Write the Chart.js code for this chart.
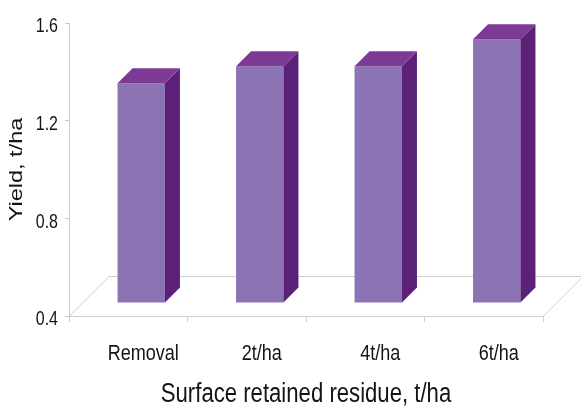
<!DOCTYPE html>
<html>
<head>
<meta charset="utf-8">
<script src="https://cdn.jsdelivr.net/npm/chart.js@4/dist/chart.umd.min.js"></script>
<style>
  html, body { margin: 0; padding: 0; background: #ffffff; }
  #wrap { width: 581px; height: 407px; }
</style>
</head>
<body>
<div id="wrap"><canvas id="chart" width="581" height="407"></canvas></div>
<script>
// Yield under different amounts of surface-retained residue
const categories = ['Removal', '2t/ha', '4t/ha', '6t/ha'];
const yieldValues = [1.30, 1.37, 1.37, 1.48];
const yTicks = [0.4, 0.8, 1.2, 1.6];

const FRONT = '#8c73b4';
const SIDE = '#5b2179';
const TOP = '#7d3a95';
const FLOOR_LINE = '#cfcfcf';
const AXIS_LINE = '#cdc6da';
const TEXT = '#141414';
const SANS = "'Liberation Sans', Arial, sans-serif";
const NARROW_K = 0.82;   // horizontal squeeze giving a narrow typeface look

const FLOOR_DEPTH = 40;  // depth of the floor plane
const BAR_SHIFT = 13;    // columns stand partway back on the floor
const BAR_DEPTH = 15;    // thickness of each column

// Wrap a scale drawing method so its text is drawn condensed
function condense(scale, method, kx, ky) {
  const orig = scale[method];
  scale[method] = function (...args) {
    const ctx = this.ctx;
    const proto = Object.getPrototypeOf(ctx).fillText;
    ctx.fillText = function (t, x, y, mw) {
      this.save();
      this.translate(x, y);
      this.scale(kx, ky);
      if (mw === undefined) proto.call(this, t, 0, 0);
      else proto.call(this, t, 0, 0, mw / kx);
      this.restore();
    };
    try { orig.apply(this, args); } finally { delete ctx.fillText; }
  };
}

const narrowText = {
  id: 'narrowText',
  beforeDraw(chart) {
    const { x, y } = chart.scales;
    if (x._narrow) return;
    condense(x, 'drawLabels', NARROW_K, 1);
    condense(x, 'drawTitle', NARROW_K, 1);
    condense(y, 'drawLabels', NARROW_K, 1);
    condense(y, 'drawTitle', 1, NARROW_K);
    x._narrow = y._narrow = true;
  }
};

// Draws the floor outline, then pushes the columns back and adds side and top faces
const columns3d = {
  id: 'columns3d',
  beforeDatasetsDraw(chart) {
    const { ctx, chartArea: a } = chart;
    ctx.save();
    ctx.strokeStyle = FLOOR_LINE;
    ctx.lineWidth = 1;
    ctx.beginPath();
    ctx.moveTo(a.left, a.bottom + 0.5);
    ctx.lineTo(a.left + FLOOR_DEPTH, a.bottom - FLOOR_DEPTH + 0.5);
    ctx.lineTo(a.right + FLOOR_DEPTH, a.bottom - FLOOR_DEPTH + 0.5);
    ctx.moveTo(a.right, a.bottom + 0.5);
    ctx.lineTo(a.right + FLOOR_DEPTH, a.bottom - FLOOR_DEPTH + 0.5);
    ctx.stroke();
    ctx.restore();
    ctx.save();
    ctx.translate(BAR_SHIFT, -BAR_SHIFT);
  },
  afterDatasetsDraw(chart) {
    const ctx = chart.ctx;
    const d = BAR_DEPTH;
    chart.getDatasetMeta(0).data.forEach(bar => {
      const { x, y, base, width } = bar.getProps(['x', 'y', 'base', 'width'], true);
      const l = x - width / 2, r = x + width / 2;
      // side face
      ctx.fillStyle = SIDE;
      ctx.beginPath();
      ctx.moveTo(r, y);
      ctx.lineTo(r + d, y - d);
      ctx.lineTo(r + d, base - d);
      ctx.lineTo(r, base);
      ctx.closePath();
      ctx.fill();
      // top face
      ctx.fillStyle = TOP;
      ctx.beginPath();
      ctx.moveTo(l, y);
      ctx.lineTo(l + d, y - d);
      ctx.lineTo(r + d, y - d);
      ctx.lineTo(r, y);
      ctx.closePath();
      ctx.fill();
    });
    ctx.restore();
  }
};

new Chart(document.getElementById('chart'), {
  type: 'bar',
  data: {
    labels: categories,
    datasets: [{
      data: yieldValues,
      backgroundColor: FRONT,
      borderWidth: 0,
      barPercentage: 0.4,
      categoryPercentage: 1.0,
      base: yTicks[0],
      clip: false
    }]
  },
  options: {
    responsive: false,
    devicePixelRatio: 1,
    animation: false,
    layout: { padding: { top: 23, right: 38, bottom: 0, left: 0 } },
    plugins: {
      legend: { display: false },
      tooltip: { enabled: false }
    },
    scales: {
      x: {
        offset: true,
        grid: {
          offset: true,
          drawOnChartArea: false,
          drawTicks: true,
          tickLength: 6,
          color: FLOOR_LINE
        },
        border: { color: FLOOR_LINE, width: 1 },
        ticks: {
          color: TEXT,
          font: { family: SANS, size: 22 },
          padding: 19,
          labelOffset: 15,
          maxRotation: 0
        },
        title: {
          display: true,
          text: 'Surface retained residue, t/ha',
          color: TEXT,
          font: { family: SANS, size: 27, lineHeight: 0.9 },
          padding: { top: 0, bottom: 0 }
        },
        afterFit(scale) { scale.height = 91; }
      },
      y: {
        min: yTicks[0],
        max: yTicks[yTicks.length - 1],
        afterBuildTicks(scale) { scale.ticks = yTicks.map(v => ({ value: v })); },
        grid: {
          drawOnChartArea: false,
          drawTicks: true,
          tickLength: 4,
          color: AXIS_LINE
        },
        border: { color: AXIS_LINE, width: 1 },
        ticks: {
          color: TEXT,
          font: { family: SANS, size: 19.5 },
          padding: 7,
          labelOffset: 4,
          callback: v => Number(v).toFixed(1)
        },
        title: {
          display: true,
          text: 'Yield, t/ha',
          color: TEXT,
          font: { family: SANS, size: 23.5, lineHeight: 1 },
          padding: { top: 5, bottom: 0 }
        },
        afterFit(scale) { scale.width = 69; }
      }
    }
  },
  plugins: [narrowText, columns3d]
});
</script>
</body>
</html>
